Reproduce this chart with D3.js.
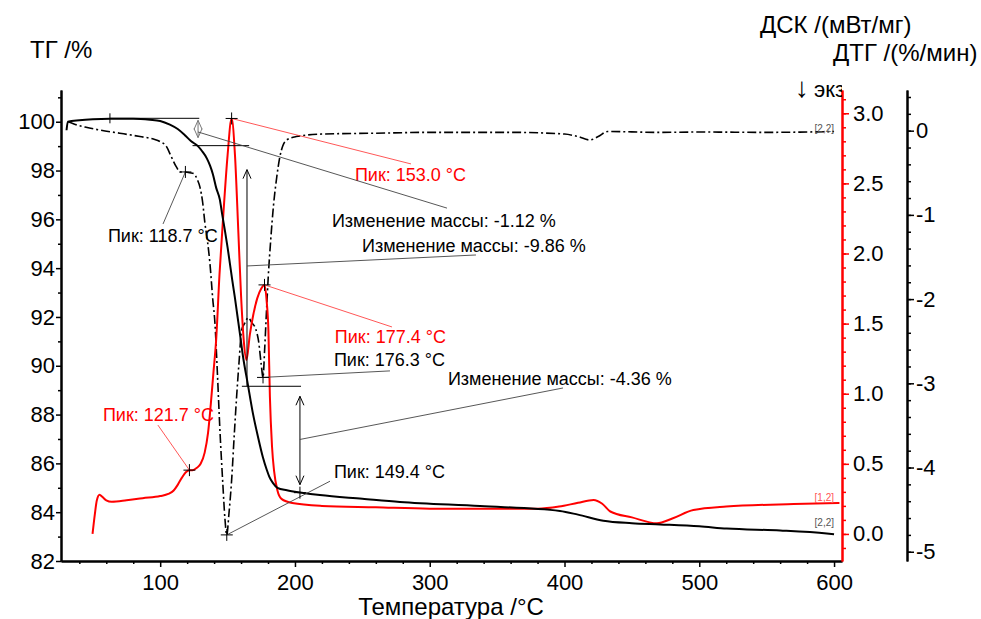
<!DOCTYPE html>
<html>
<head>
    <meta charset="UTF-8"/>
    <style>
        body {
            margin: 0;
            background: #fff;
        }
        svg text {
            font-family: "Liberation Sans", Arial, Helvetica, sans-serif;
        }
    </style>
</head>
<body>
<script src="https://cdn.jsdelivr.net/npm/d3@7"></script>
<div id="chart"></div>
<script>

    // TG curve: [temperature °C, mass %]
    var tgData = [
        [30.5, 99.65], [31.5, 100.0], [40, 100.06], [50, 100.1], [62.7, 100.12], [80, 100.12],
        [92.4, 100.08], [100, 100.03], [107.2, 99.88], [113, 99.7], [118.3, 99.45], [123, 99.2],
        [128, 99.0], [131, 98.8], [134.6, 98.5], [137, 98.2], [139.1, 97.85], [141.5, 97.3],
        [144.3, 96.8], [146, 96.2], [148, 95.55], [150, 94.85], [151.7, 94.2], [153.5, 93.5],
        [155.4, 92.8], [157.3, 92.05], [159.2, 91.3], [161.4, 90.4], [165, 89.25], [168.8, 88.05],
        [172.5, 87.1], [176.2, 86.25], [179, 85.75], [181, 85.45], [183.6, 85.2], [187, 85.0],
        [194, 84.9], [205, 84.8], [218.5, 84.7], [250, 84.55], [277.9, 84.42], [337.3, 84.25],
        [396.6, 84.05], [410, 83.9], [428.8, 83.65], [450, 83.55], [470.9, 83.5], [500, 83.42],
        [520.4, 83.33], [560, 83.25], [594.6, 83.13], [600, 83.1]
    ];

    // DSC curve: [temperature °C, mW/mg]
    var dscData = [
        [49.8, 0.0], [51.5, 0.14], [53, 0.24], [55, 0.28], [57, 0.265], [60, 0.24], [64, 0.23],
        [75, 0.24], [87, 0.255], [100, 0.27], [106, 0.285], [110, 0.31], [113, 0.35], [116, 0.4],
        [119, 0.44], [121.7, 0.455], [124, 0.455], [127, 0.47], [130, 0.5], [133, 0.58],
        [135.5, 0.72], [137.5, 0.92], [139.5, 1.15], [141.5, 1.38], [144, 1.85], [147, 2.3],
        [150, 2.7], [153, 2.963], [155.5, 2.7], [158, 2.15], [160, 1.7], [162, 1.38], [164, 1.24],
        [166.5, 1.42], [169, 1.56], [172, 1.68], [175, 1.75], [177.4, 1.776], [179, 1.66],
        [180.3, 1.45], [181.4, 0.98], [183, 0.62], [184.5, 0.45], [187, 0.31], [190, 0.25],
        [198, 0.22], [220, 0.2], [260, 0.19], [300, 0.18], [350, 0.18], [380, 0.18], [396, 0.195],
        [410, 0.222], [421.6, 0.242], [428, 0.215], [434, 0.16], [450, 0.118], [468.6, 0.076],
        [480, 0.11], [495.6, 0.17], [520, 0.195], [570, 0.213], [604, 0.22]
    ];

    // DTG curve: [temperature °C, %/min]
    var dtgData = [
        [31.8, 0.107], [36, 0.08], [45, 0.04], [55, 0.008], [70, -0.03], [85, -0.07], [95, -0.1],
        [100, -0.13], [104.7, -0.19], [108, -0.3], [112, -0.43], [115, -0.49], [118.7, -0.49],
        [122, -0.5], [125, -0.51], [127.5, -0.58], [129.5, -0.67], [131.5, -0.85], [133.2, -1.1],
        [135, -1.3], [136.9, -1.575], [139, -2.0], [140.6, -2.28], [142.5, -2.9], [144.3, -3.55],
        [146.5, -4.2], [148, -4.6], [149.4, -4.8], [151, -4.55], [153, -4.15], [155, -3.6],
        [156.7, -3.16], [158.5, -2.75], [160.4, -2.37], [163, -2.28], [165.3, -2.22], [168, -2.28],
        [171, -2.36], [173, -2.5], [175, -2.78], [176.3, -2.93], [177.5, -2.6], [179, -2.1],
        [180.2, -1.73], [182, -1.3], [184, -0.9], [186.5, -0.55], [188.8, -0.31], [191, -0.18],
        [193.8, -0.11], [201, -0.07], [220, -0.04], [260, -0.03], [300, -0.02], [360, -0.02],
        [400, -0.04], [410, -0.07], [418.8, -0.11], [425, -0.07], [432, -0.01], [470, -0.02],
        [500, -0.016], [550, -0.02], [600, -0.01]
    ];

    // peaks found on the curves
    var dtgPeakTemps = [118.7, 149.4, 176.3];
    var dtgPeakVals = [-0.49, -4.8, -2.93];
    var dscPeakTemps = [121.7, 153.0, 177.4];
    var dscPeakVals = [0.455, 2.963, 1.776];

    // mass changes (TG steps)
    var massStart = 100.14;
    var massChanges = [-1.12, -9.86, -4.36];
    var stepTemps = [128.1, 164.4, 203.7];

    // tick labels
    var tgTicks = [82, 84, 86, 88, 90, 92, 94, 96, 98, 100];
    var tempTicks = [100, 200, 300, 400, 500, 600];
    var dscTicks = [0, 0.5, 1.0, 1.5, 2.0, 2.5, 3.0];
    var dtgTicks = [-5, -4, -3, -2, -1, 0];

    var width = 981, height = 619;
    var plotL = 61, plotR = 842, plotT = 90, plotB = 561;

    var svg = d3.select("#chart")
        .append("svg")
        .attr("width", width)
        .attr("height", height);

    var x = d3.scaleLinear().domain([26.4, 605.9]).range([plotL, plotR]);
    var yTG = d3.scaleLinear().domain([82, 101.3]).range([plotB, plotT]);
    var yDSC = d3.scaleLinear().domain([-0.193, 3.166]).range([plotB, plotT]);
    var yDTG = d3.scaleLinear().domain([-5.11, 0.483]).range([plotB, plotT]);

    function fmtPeak(t) { return "Пик: " + t.toFixed(1) + " °C"; }
    function fmtMass(m) { return "Изменение массы: " + m.toFixed(2) + " %"; }

    // ---------- axes ----------
    function styleAxis(g, color, size) {
        g.attr("font-size", size).attr("font-family", null);
        g.select(".domain").attr("stroke", color).attr("stroke-width", 2);
        g.selectAll(".tick line").attr("stroke", color).attr("stroke-width", 1.5);
        g.selectAll(".tick text").attr("fill", "#000");
    }

    // left TG axis
    svg.append("g")
        .attr("transform", "translate(" + plotL + ",0)")
        .call(d3.axisLeft(yTG).tickValues(d3.range(83, 101.5, 2)).tickSize(3).tickSizeOuter(0).tickFormat(""))
        .call(styleAxis, "#000", 22);
    svg.append("g")
        .attr("transform", "translate(" + plotL + ",0)")
        .call(d3.axisLeft(yTG).tickValues(tgTicks).tickSize(5).tickSizeOuter(0).tickPadding(1)
            .tickFormat(function(d) { return String(d); }))
        .call(styleAxis, "#000", 22);

    // bottom temperature axis
    svg.append("g")
        .attr("transform", "translate(0," + plotB + ")")
        .call(d3.axisBottom(x).tickValues(d3.range(40, 601, 20).filter(function(d) { return d % 100 != 0; }))
            .tickSize(3).tickSizeOuter(0).tickFormat(""))
        .call(styleAxis, "#000", 22);
    svg.append("g")
        .attr("transform", "translate(0," + plotB + ")")
        .call(d3.axisBottom(x).tickValues(tempTicks).tickSize(6).tickSizeOuter(0).tickPadding(7)
            .tickFormat(function(d) { return String(d); }))
        .call(styleAxis, "#000", 22);

    // red DSC axis
    svg.append("g")
        .attr("transform", "translate(" + plotR + ",0)")
        .call(d3.axisRight(yDSC).tickValues(d3.range(-1, 32).map(function(d) { return d / 10; }))
            .tickSize(4).tickSizeOuter(0).tickFormat(""))
        .call(styleAxis, "red", 22);
    svg.append("g")
        .attr("transform", "translate(" + plotR + ",0)")
        .call(d3.axisRight(yDSC).tickValues(dscTicks).tickSize(7).tickSizeOuter(0).tickPadding(4)
            .tickFormat(d3.format(".1f")))
        .call(styleAxis, "red", 22);

    // DTG axis
    var dtgX = 907;
    svg.append("g")
        .attr("transform", "translate(" + dtgX + ",0)")
        .call(d3.axisRight(yDTG).tickValues(d3.range(-25, 3).map(function(d) { return d / 5; }))
            .tickSize(4).tickSizeOuter(0).tickFormat(""))
        .call(styleAxis, "#000", 22);
    svg.append("g")
        .attr("transform", "translate(" + dtgX + ",0)")
        .call(d3.axisRight(yDTG).tickValues(dtgTicks).tickSize(7).tickSizeOuter(0).tickPadding(2)
            .tickFormat(function(d) { return String(d); }))
        .call(styleAxis, "#000", 22);

    // ---------- curves ----------
    var lineTG = d3.line().x(function(d) { return x(d[0]); }).y(function(d) { return yTG(d[1]); })
        .curve(d3.curveMonotoneX);
    var lineDSC = d3.line().x(function(d) { return x(d[0]); }).y(function(d) { return yDSC(d[1]); })
        .curve(d3.curveMonotoneX);
    var lineDTG = d3.line().x(function(d) { return x(d[0]); }).y(function(d) { return yDTG(d[1]); })
        .curve(d3.curveMonotoneX);

    svg.append("path").datum(dtgData).attr("d", lineDTG)
        .attr("fill", "none").attr("stroke", "#000").attr("stroke-width", 1.6)
        .attr("stroke-dasharray", "9,3,2,3");
    svg.append("path").datum(dscData).attr("d", lineDSC)
        .attr("fill", "none").attr("stroke", "red").attr("stroke-width", 2);
    svg.append("path").datum(tgData).attr("d", lineTG)
        .attr("fill", "none").attr("stroke", "#000").attr("stroke-width", 2);

    // ---------- annotations ----------
    var ann = svg.append("g");

    function cross(cx, cy) {
        return "M" + (cx - 6) + "," + cy + "H" + (cx + 6) + "M" + cx + "," + (cy - 6) + "V" + (cy + 6);
    }
    function chevron(px, py, dir) {
        return "M" + (px - 4) + "," + (py - dir * 9) + "L" + px + "," + py + "L" + (px + 4) + "," + (py - dir * 9);
    }
    function seg(x1, y1, x2, y2, color, w) {
        ann.append("line").attr("x1", x1).attr("y1", y1).attr("x2", x2).attr("y2", y2)
            .attr("stroke", color).attr("stroke-width", w);
    }
    function label(txt, px, py, color) {
        ann.append("text").attr("x", px).attr("y", py).attr("font-size", 18)
            .attr("fill", color).text(txt);
    }

    // label layout, in [temperature, TG %]
    var dtgLabelAt = [[61.2, 95.07], [228.9, 85.40], [228.9, 89.99]];
    var dtgLeadTo = [[102.1, 95.81], [226, 85.27], [270.5, 89.79]];
    var dscLabelAt = [[57.5, 87.73], [244.5, 97.59], [229.6, 90.93]];
    var dscLeadTo = [[98.3, 87.57], [286.1, 98.27], [272, 91.59]];
    var massLabelAt = [[227.4, 95.70], [249.7, 94.68], [313.5, 89.23]];
    var massLeadTo = [[312.8, 96.46], [334.3, 94.54], [398.9, 89.09]];

    dtgPeakTemps.forEach(function(t, i) {
        var px = x(t), py = yDTG(dtgPeakVals[i]);
        seg(px, py, x(dtgLeadTo[i][0]), yTG(dtgLeadTo[i][1]), "#444", 0.9);
        ann.append("path").attr("d", cross(px, py)).attr("stroke", "#000").attr("stroke-width", 1);
        label(fmtPeak(t), x(dtgLabelAt[i][0]), yTG(dtgLabelAt[i][1]), "#000");
    });

    dscPeakTemps.forEach(function(t, i) {
        var px = x(t), py = yDSC(dscPeakVals[i]);
        seg(px, py, x(dscLeadTo[i][0]), yTG(dscLeadTo[i][1]), "#f44", 0.9);
        ann.append("path").attr("d", cross(px, py)).attr("stroke", "#000").attr("stroke-width", 1);
        label(fmtPeak(t), x(dscLabelAt[i][0]), yTG(dscLabelAt[i][1]), "red");
    });

    // TG steps: level lines, arrows and leaders
    var levels = [massStart];
    massChanges.forEach(function(m, i) { levels.push(levels[i] + m); });

    // onset line with its tick
    seg(x(62.7), yTG(levels[0]), x(129), yTG(levels[0]), "#000", 1);
    seg(x(62.7), yTG(levels[0]) - 5, x(62.7), yTG(levels[0]) + 5, "#000", 1);
    seg(x(124), yTG(levels[1]), x(166), yTG(levels[1]), "#000", 1);
    seg(x(160.6), yTG(levels[2]), x(204.5), yTG(levels[2]), "#000", 1);
    ann.append("path").attr("d", cross(x(stepTemps[2]), yTG(levels[3]))).attr("stroke", "#000").attr("stroke-width", 1);

    var arrowColor = ["#777", "#000", "#000"];
    massChanges.forEach(function(m, i) {
        var ax = x(stepTemps[i]);
        var y1 = yTG(levels[i]), y2 = yTG(levels[i + 1]);
        var inset = i == 1 ? 24 : (i == 2 ? 10 : 2);
        seg(ax, y1 + inset, ax, y2 - (i == 1 ? 0 : 8), arrowColor[i], 1);
        ann.append("path").attr("d", chevron(ax, y1 + inset, -1))
            .attr("fill", "none").attr("stroke", arrowColor[i]).attr("stroke-width", 1);
        if (i != 1) {
            ann.append("path").attr("d", chevron(ax, y2 - 8, 1))
                .attr("fill", "none").attr("stroke", arrowColor[i]).attr("stroke-width", 1);
        }
        var mid = yTG((levels[i] + levels[i + 1]) / 2);
        seg(ax, mid, x(massLeadTo[i][0]), yTG(massLeadTo[i][1]), "#444", 0.9);
        label(fmtMass(m), x(massLabelAt[i][0]), yTG(massLabelAt[i][1]), "#000");
    });

    // curve end tags
    var tgEnd = tgData[tgData.length - 1], dscEnd = dscData[dscData.length - 1], dtgEnd = dtgData[dtgData.length - 1];
    ann.append("text").attr("x", x(600)).attr("y", yDTG(dtgEnd[1])).attr("text-anchor", "end")
        .attr("font-size", 10).attr("fill", "#555").text("[2,2]");
    ann.append("text").attr("x", x(600)).attr("y", yDSC(dscEnd[1]) - 2).attr("text-anchor", "end")
        .attr("font-size", 10).attr("fill", "#f55").text("[1,2]");
    ann.append("text").attr("x", x(600)).attr("y", yTG(tgEnd[1]) - 8).attr("text-anchor", "end")
        .attr("font-size", 10).attr("fill", "#555").text("[2,2]");

    // ---------- titles ----------
    svg.append("text").attr("x", 30).attr("y", 58).attr("font-size", 24).text("ТГ /%");
    svg.append("text").attr("x", 760).attr("y", 33).attr("font-size", 24).text("ДСК /(мВт/мг)");
    svg.append("text").attr("x", 833).attr("y", 61).attr("font-size", 24).text("ДТГ /(%/мин)");

    // exo direction, cut off by the DSC axis
    svg.append("clipPath").attr("id", "exoClip")
        .append("rect").attr("x", 780).attr("y", 70).attr("width", plotR - 780).attr("height", 40);
    var exo = svg.append("text").attr("x", 795).attr("y", 97).attr("font-size", 22)
        .attr("clip-path", "url(#exoClip)");
    exo.append("tspan").attr("font-family", "Noto Sans").attr("font-weight", 300).attr("font-size", 28)
        .attr("fill", "#000").text("↓");
    exo.append("tspan").attr("dx", 5).text("экзо");

    svg.append("text").attr("x", 451).attr("y", 615).attr("text-anchor", "middle")
        .attr("font-size", 24).text("Температура /°C");

</script>
</body>
</html>
